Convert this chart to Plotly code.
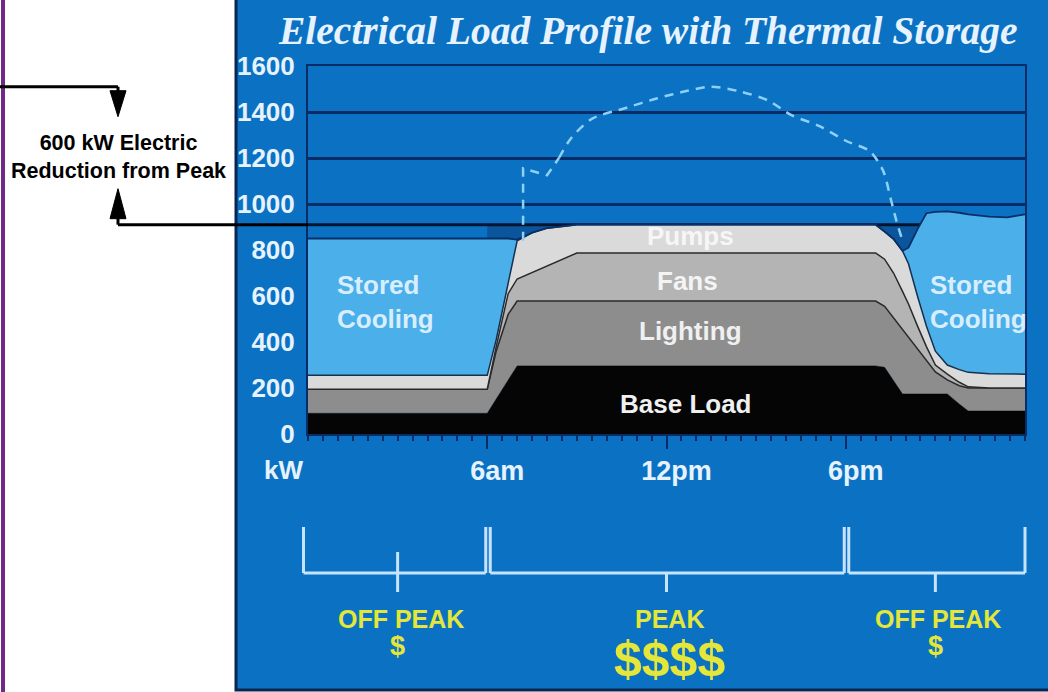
import numpy as np
import plotly.graph_objects as go

# ---------------------------------------------------------------- data
# Hour of day and the upper edge (kW) of each stacked load layer
HOURS = [0, 6.0, 6.3, 6.7, 7.0, 7.5, 8.0, 9.0, 18.5, 19.0, 19.3, 19.6, 19.9,
         20.1, 20.4, 20.7, 21.0, 21.4, 21.8, 22.1, 22.8, 23.4, 24]
BASE_TOP = [90, 90, 152, 235, 296, 296, 296, 296, 296, 296, 290, 230, 174,
            174, 174, 174, 174, 174, 130, 100, 100, 100, 100]
LIGHTING_TOP = [195, 195, 360, 520, 578, 578, 578, 578, 578, 578, 555, 505, 455,
                420, 375, 320, 270, 235, 210, 200, 200, 200, 200]
FANS_TOP = [195, 195, 380, 610, 674, 702, 730, 787, 787, 787, 760, 700, 620,
            565, 470, 380, 300, 260, 225, 205, 200, 200, 200]
PUMPS_TOP = [255, 255, 410, 650, 840, 875, 895, 910, 910, 910, 880, 848, 796,
             740, 600, 470, 360, 300, 280, 268, 262, 260, 260]
STORED_TOP = [850, 850, 850, 850, 845, 875, 895, 910, 910, 910, 880, 848, 796,
              810, 890, 960, 966, 968, 962, 955, 945, 942, 955]

# Load profile without thermal storage (dashed curve)
PEAK_HOURS = [7.2, 7.2, 8.0, 8.4, 8.8, 9.5, 10.7, 11.7, 12.7, 13.5, 14.5,
              15.4, 16.2, 17.1, 18.0, 18.8, 19.25, 19.5, 19.7, 19.9]
PEAK_KW = [840, 1155, 1125, 1200, 1285, 1370, 1420, 1460, 1492, 1510, 1488,
           1450, 1385, 1340, 1275, 1230, 1145, 1025, 925, 840]

Y_TICKS = [0, 200, 400, 600, 800, 1000, 1200, 1400, 1600]
X_TICKS = [6, 12, 18]
X_TICK_TEXT = ["6am", "12pm", "6pm"]

PERIODS = [(0, 6), (6, 18), (18, 24)]
PERIOD_NAMES = ["OFF PEAK", "PEAK", "OFF PEAK"]
PERIOD_COST = ["$", "$$$$", "$"]

# ---------------------------------------------------------------- style
W, H = 1048, 692
PANEL = "#0B72C3"
NAVY = "#0A2C66"
LIGHT_TXT = "#E6F3FF"
YELLOW = "#E4E63A"
SANS = "Liberation Sans, Arial, sans-serif"

X0_PX, X1_PX = 308, 1025      # plot area, left/right
Y0_PX, Y1_PX = 434, 66        # plot area, bottom/top


def px(x):
    return x / W


def py(y):
    return 1 - y / H


def hx(hour):
    """hour of day -> paper x (for marks drawn outside the plot area)"""
    span = HOURS[-1] - HOURS[0]
    return px(X0_PX + (hour - HOURS[0]) / span * (X1_PX - X0_PX))


plateau = max(PUMPS_TOP)
peak = max(PEAK_KW)
reduction = peak - plateau
kw_per_px = (Y_TICKS[-1] - Y_TICKS[0]) / (Y0_PX - Y1_PX)

fig = go.Figure()

# dark wedges between the flat demand line and the load edge during ramps
h = np.array(HOURS)
top = np.minimum(np.array(STORED_TOP), plateau)
for lo, hi in [(6.0, 9.0), (19.0, 20.7)]:
    m = (h >= lo) & (h <= hi)
    xs = list(h[m]) + list(h[m][::-1])
    ys = list(top[m]) + [plateau] * int(m.sum())
    fig.add_trace(go.Scatter(x=xs, y=ys, mode="lines", fill="toself",
                             fillcolor="#0A559C", line=dict(width=0),
                             hoverinfo="skip"))

# flat demand line across the chart
fig.add_trace(go.Scatter(x=[HOURS[0], HOURS[-1]], y=[plateau, plateau],
                         mode="lines", line=dict(color="#05152E", width=3),
                         hoverinfo="skip"))

layers = [
    ("Base Load", BASE_TOP, "#050505", "#050505", 0),
    ("Lighting", LIGHTING_TOP, "#8D8D8D", "#2A2A2A", 1.5),
    ("Fans", FANS_TOP, "#B4B4B4", "#2A2A2A", 1.5),
    ("Pumps", PUMPS_TOP, "#DADADA", "#16304F", 1.5),
    ("Stored Cooling", STORED_TOP, "#4BAFE9", "#0A2F66", 1.8),
]
for i, (name, ys, fill, edge, lw) in enumerate(layers):
    fig.add_trace(go.Scatter(
        x=HOURS, y=ys, name=name, mode="lines",
        line=dict(color=edge, width=lw if lw else 0.5),
        fill="tozeroy" if i == 0 else "tonexty", fillcolor=fill,
        hoverinfo="skip"))

# dashed no-storage profile: straight start-up step, then a smooth arc
DASH = dict(color="#8ED0F6", width=2.5, dash="9px,7px")
fig.add_trace(go.Scatter(x=PEAK_HOURS[:4], y=PEAK_KW[:4], mode="lines",
                         line=DASH, hoverinfo="skip"))
fig.add_trace(go.Scatter(x=PEAK_HOURS[3:], y=PEAK_KW[3:], mode="lines",
                         line=dict(DASH, shape="spline", smoothing=0.8),
                         hoverinfo="skip"))

# ---------------------------------------------------------------- shapes
shapes = [
    # blue panel
    dict(type="rect", xref="paper", yref="paper", x0=px(236), x1=1.01,
         y0=py(690), y1=1.01, fillcolor=PANEL,
         line=dict(color="#0A2550", width=3), layer="below"),
    # purple rule on the far left
    dict(type="line", xref="paper", yref="paper", x0=px(3), x1=px(3),
         y0=0, y1=1, line=dict(color="#6E2A86", width=4)),
    # reduction bracket: top line at the unshifted peak
    dict(type="line", xref="paper", yref="y", x0=0, x1=px(118),
         y0=peak, y1=peak, line=dict(color="black", width=3)),
    # bottom line at the shifted demand level
    dict(type="line", xref="paper", yref="y", x0=px(118), x1=px(X0_PX),
         y0=plateau, y1=plateau, line=dict(color="black", width=3)),
    # arrow heads
    dict(type="path", xref="paper", yref="y",
         path=(f"M {px(110)},{peak - 4 * kw_per_px} L {px(126)},{peak - 4 * kw_per_px} "
               f"L {px(118)},{peak - 30 * kw_per_px} Z"),
         fillcolor="black", line=dict(color="black", width=1)),
    dict(type="line", xref="paper", yref="y", x0=px(118), x1=px(118),
         y0=peak, y1=peak - 6 * kw_per_px, line=dict(color="black", width=3)),
    dict(type="path", xref="paper", yref="y",
         path=(f"M {px(110)},{plateau + 6 * kw_per_px} L {px(126)},{plateau + 6 * kw_per_px} "
               f"L {px(118)},{plateau + 36 * kw_per_px} Z"),
         fillcolor="black", line=dict(color="black", width=1)),
    dict(type="line", xref="paper", yref="y", x0=px(118), x1=px(118),
         y0=plateau, y1=plateau + 8 * kw_per_px, line=dict(color="black", width=3)),
]

# tariff period brackets under the time axis
BR = "#C6E4FF"
for k, (a, b) in enumerate(PERIODS):
    l = hx(a + (0.1 if a > HOURS[0] else -0.15))
    r = hx(b - (0.05 if b < HOURS[-1] else 0))
    mid = hx((a + b) / 2)
    for xa, xb, ya, yb in [(l, l, 527, 573), (r, r, 527, 573), (l, r, 573, 573),
                           (mid, mid, 552 if k == 0 else 573, 592)]:
        shapes.append(dict(type="line", xref="paper", yref="paper", x0=xa, x1=xb,
                           y0=py(ya), y1=py(yb), line=dict(color=BR, width=3)))

# ---------------------------------------------------------------- text
C = dict(xanchor="center", yanchor="middle", showarrow=False)
ann = [
    dict(text="<b><i>Electrical Load Profile with Thermal Storage</i></b>",
         xref="paper", yref="paper", x=px(647), y=py(31), **C,
         font=dict(family="Liberation Serif, Times New Roman, serif", size=39.5,
                   color=LIGHT_TXT)),
    dict(text=f"<b>{reduction} kW Electric<br>Reduction from Peak</b>",
         xref="paper", yref="paper", x=px(118), y=py(157), **C,
         font=dict(family=SANS, size=21.5, color="black")),
    dict(text="<b>kW</b>", xref="paper", yref="paper", x=px(283), y=py(470),
         **C, font=dict(family=SANS, size=26, color=LIGHT_TXT)),
    dict(text="<b>Stored<br>Cooling</b>", x=0.9, y=575, xanchor="left",
         yanchor="middle", align="left", showarrow=False,
         font=dict(family=SANS, size=26, color="#D8EEFF")),
    dict(text="<b>Stored<br>Cooling</b>", x=20.75, y=575, xanchor="left",
         yanchor="middle", align="left", showarrow=False,
         font=dict(family=SANS, size=26, color="#D8EEFF")),
    dict(text="<b>Pumps</b>", x=12.8, y=860, **C,
         font=dict(family=SANS, size=26, color="#F6F6F6")),
    dict(text="<b>Fans</b>", x=12.7, y=665, **C,
         font=dict(family=SANS, size=26, color="#F4F4F4")),
    dict(text="<b>Lighting</b>", x=12.8, y=448, **C,
         font=dict(family=SANS, size=26, color="#F0F0F0")),
    dict(text="<b>Base Load</b>", x=12.65, y=130, **C,
         font=dict(family=SANS, size=26, color="#F0F0F0")),
]
for (a, b), name, cost in zip(PERIODS, PERIOD_NAMES, PERIOD_COST):
    centre = (a + b) / 2
    ann.append(dict(text=f"<b>{name}</b>", xref="paper", yref="paper",
                    x=hx(centre + 0.1), y=py(619), **C,
                    font=dict(family=SANS, size=25, color=YELLOW)))
    big = len(cost) > 1
    ann.append(dict(text=f"<b>{cost}</b>", xref="paper", yref="paper",
                    x=hx(centre + (0.1 if big else 0)),
                    y=py(659 if big else 646), **C,
                    font=dict(family=SANS, size=50 if big else 27, color=YELLOW)))

fig.update_layout(
    width=W, height=H,
    margin=dict(l=0, r=0, t=0, b=0, pad=0, autoexpand=False),
    paper_bgcolor="white", plot_bgcolor=PANEL, showlegend=False,
    shapes=shapes, annotations=ann,
    xaxis=dict(domain=[px(X0_PX), px(X1_PX)], range=[HOURS[0], HOURS[-1]],
               automargin=False,
               tickmode="array", tickvals=X_TICKS, ticktext=X_TICK_TEXT,
               ticks="outside", ticklen=13, tickwidth=2, tickcolor=NAVY,
               minor=dict(tickmode="linear", tick0=0, dtick=0.5, ticks="outside",
                          ticklen=5, tickwidth=1.5, tickcolor=NAVY, showgrid=False),
               showgrid=False, zeroline=False, showline=True, mirror=True,
               linecolor=NAVY, linewidth=2, ticklabelshift=10,
               ticklabelstandoff=-1,
               tickfont=dict(family=SANS, size=27, color=LIGHT_TXT, weight="bold")),
    yaxis=dict(domain=[py(Y0_PX), py(Y1_PX)], range=[Y_TICKS[0], Y_TICKS[-1]],
               automargin=False,
               tickmode="array", tickvals=Y_TICKS, ticks="",
               showgrid=True, gridcolor=NAVY, gridwidth=2.5, zeroline=False,
               showline=True, mirror=True, linecolor=NAVY, linewidth=2,
               ticklabelstandoff=6,
               tickfont=dict(family=SANS, size=26, color=LIGHT_TXT, weight="bold")),
)

fig.write_html("out.html")
